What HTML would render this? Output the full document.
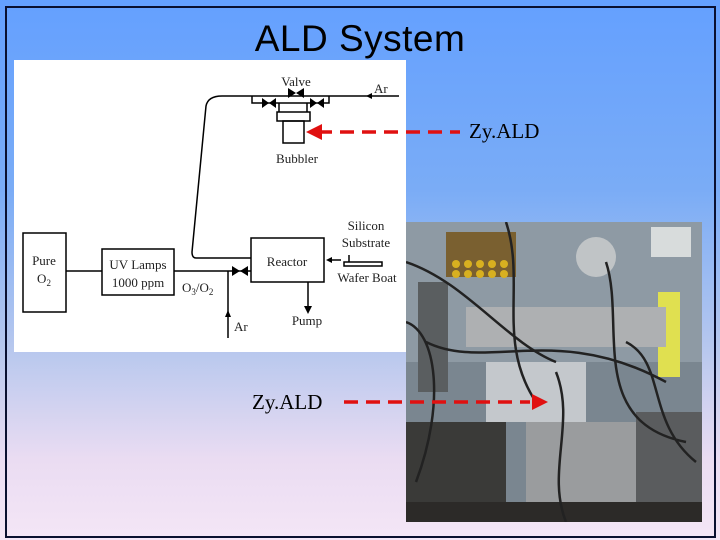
<!DOCTYPE html>
<html><head><style>
body{margin:0;width:720px;height:540px;overflow:hidden;background:linear-gradient(180deg,#64a0ff 0%,#7aacf6 35%,#b8c8ee 65%,#eadcf2 85%,#f4e6f6 100%);position:relative;font-family:"Liberation Sans",sans-serif}
.frame{position:absolute;left:5px;top:6px;width:707px;height:528px;border:2px solid #0a1030}
.title{position:absolute;left:0;width:720px;top:18px;text-align:center;font-size:37px;color:#000;letter-spacing:0.5px}
.photo{position:absolute;left:406px;top:222px;width:296px;height:300px;overflow:hidden}
</style></head><body>
<div class="frame"></div>
<div class="title">ALD System</div>
<div class="photo">
<svg width="296" height="300">
<rect x="0" y="0" width="296" height="300" fill="#7a8690"/>
<rect x="0" y="0" width="296" height="140" fill="#8e9aa4"/>
<rect x="12" y="60" width="30" height="110" fill="#5a5e60"/>
<rect x="40" y="10" width="70" height="45" fill="#7a6030"/>
<g fill="#d8b020"><circle cx="50" cy="42" r="4"/><circle cx="62" cy="42" r="4"/><circle cx="74" cy="42" r="4"/><circle cx="86" cy="42" r="4"/><circle cx="98" cy="42" r="4"/><circle cx="50" cy="52" r="4"/><circle cx="62" cy="52" r="4"/><circle cx="74" cy="52" r="4"/><circle cx="86" cy="52" r="4"/><circle cx="98" cy="52" r="4"/></g>
<circle cx="190" cy="35" r="20" fill="#c0c4c6"/>
<rect x="245" y="5" width="40" height="30" fill="#d8dcdc"/>
<rect x="252" y="70" width="22" height="85" fill="#e0e050"/>
<rect x="60" y="85" width="200" height="40" fill="#aeb0b2"/>
<rect x="80" y="140" width="100" height="60" fill="#c4c8cc"/>
<rect x="120" y="200" width="110" height="85" fill="#9a9c9e"/>
<rect x="0" y="200" width="100" height="100" fill="#3a3a38"/>
<rect x="230" y="190" width="66" height="100" fill="#5a5c5e"/>
<rect x="0" y="280" width="296" height="20" fill="#2c2a28"/>
<path d="M0 40 C60 60 100 120 150 140 M20 120 C80 150 150 100 260 160 M200 40 C220 100 180 200 280 220 M0 100 C30 110 40 180 10 260 M100 0 C120 60 90 120 130 180 M150 150 C170 200 140 250 160 300 M220 120 C260 140 240 200 290 240" stroke="#222" stroke-width="2.5" fill="none"/>
</svg>
</div>
<svg style="position:absolute;left:0;top:0" width="720" height="540">
<rect x="14" y="60" width="392" height="292" fill="#fff"/>
<g stroke="#000" stroke-width="1.5" fill="none">
<rect x="23" y="233" width="43" height="79"/>
<rect x="102" y="249" width="72" height="46"/>
<rect x="251" y="238" width="73" height="44"/>
<line x1="66" y1="271" x2="102" y2="271"/>
<line x1="174" y1="271" x2="251" y2="271"/>
<line x1="228" y1="271" x2="228" y2="338"/>
<path d="M251 258 L196 258 Q192 258 192 252 L206 106 Q208 96 222 96 L399 96"/>
<path d="M252 96 L252 103 L329 103 L329 96"/>
<rect x="277" y="112" width="33" height="9"/>
<rect x="283" y="121" width="21" height="22"/>
<line x1="279" y1="103" x2="279" y2="112"/><line x1="307" y1="103" x2="307" y2="112"/>
<line x1="308" y1="282" x2="308" y2="308"/>
<line x1="341" y1="260" x2="328" y2="260"/>
<rect x="344" y="262" width="38" height="4"/>
<line x1="349" y1="262" x2="349" y2="255"/>
</g>
<g fill="#000">
<path d="M232 266 L240 271 L232 276Z M248 266 L240 271 L248 276Z"/>
<path d="M288 88 L296 93 L288 98Z M304 88 L296 93 L304 98Z"/>
<path d="M262 98 L269 103 L262 108Z M276 98 L269 103 L276 108Z"/>
<path d="M310 98 L317 103 L310 108Z M324 98 L317 103 L324 108Z"/>
<path d="M304 306 L308 314 L312 306Z"/>
<path d="M225 317 L228 310 L231 317Z"/>
<path d="M326 260 L332 257 L332 263Z"/>
<path d="M366 96 L372 93 L372 99Z"/>
</g>
<g font-family="Liberation Serif,serif" font-size="13" fill="#222">
<text x="296" y="86" text-anchor="middle">Valve</text>
<text x="374" y="93">Ar</text>
<text x="297" y="163" text-anchor="middle">Bubbler</text>
<text x="44" y="265" text-anchor="middle">Pure</text>
<text x="44" y="283" text-anchor="middle">O<tspan font-size="9" dy="3">2</tspan></text>
<text x="138" y="269" text-anchor="middle">UV Lamps</text>
<text x="138" y="287" text-anchor="middle">1000 ppm</text>
<text x="182" y="292">O<tspan font-size="9" dy="3">3</tspan><tspan dy="-3">/O</tspan><tspan font-size="9" dy="3">2</tspan></text>
<text x="287" y="266" text-anchor="middle">Reactor</text>
<text x="366" y="230" text-anchor="middle">Silicon</text>
<text x="366" y="247" text-anchor="middle">Substrate</text>
<text x="367" y="282" text-anchor="middle">Wafer Boat</text>
<text x="307" y="325" text-anchor="middle">Pump</text>
<text x="234" y="331">Ar</text>
</g>
<g stroke="#e01010" stroke-width="3.5" stroke-dasharray="14,8" fill="none">
<line x1="318" y1="132" x2="460" y2="132"/>
<line x1="344" y1="402" x2="530" y2="402"/>
</g>
<g fill="#e01010">
<path d="M306 132 L322 124 L322 140Z"/>
<path d="M548 402 L532 394 L532 410Z"/>
</g>
<g font-family="Liberation Serif,serif" font-size="21" fill="#000">
<text x="469" y="138">Zy.ALD</text>
<text x="252" y="409">Zy.ALD</text>
</g>
</svg>
</body></html>
